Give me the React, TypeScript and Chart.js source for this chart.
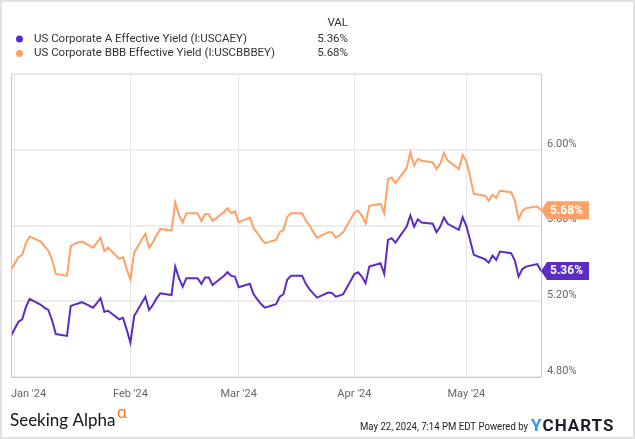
import React, { useEffect, useRef } from 'react';
import { Chart, registerables } from 'chart.js';
Chart.register(...registerables);

// ---------- data ----------
const dates = [
  "2023-12-29",
  "2024-01-01","2024-01-02","2024-01-03","2024-01-04","2024-01-05",
  "2024-01-08","2024-01-09","2024-01-10","2024-01-11","2024-01-12",
  "2024-01-15","2024-01-16","2024-01-17","2024-01-18","2024-01-19",
  "2024-01-22","2024-01-23","2024-01-24","2024-01-25","2024-01-26",
  "2024-01-29","2024-01-30","2024-01-31",
  "2024-02-01","2024-02-02",
  "2024-02-05","2024-02-06","2024-02-07","2024-02-08","2024-02-09",
  "2024-02-12","2024-02-13","2024-02-14","2024-02-15","2024-02-16",
  "2024-02-19","2024-02-20","2024-02-21","2024-02-22","2024-02-23",
  "2024-02-26","2024-02-27","2024-02-28","2024-02-29",
  "2024-03-01",
  "2024-03-04","2024-03-05","2024-03-06","2024-03-07","2024-03-08",
  "2024-03-11","2024-03-12","2024-03-13","2024-03-14","2024-03-15",
  "2024-03-18","2024-03-19","2024-03-20","2024-03-21","2024-03-22",
  "2024-03-25","2024-03-26","2024-03-27","2024-03-28","2024-03-29",
  "2024-04-01","2024-04-02","2024-04-03","2024-04-04","2024-04-05",
  "2024-04-08","2024-04-09","2024-04-10","2024-04-11","2024-04-12",
  "2024-04-15","2024-04-16","2024-04-17","2024-04-18","2024-04-19",
  "2024-04-22","2024-04-23","2024-04-24","2024-04-25","2024-04-26",
  "2024-04-29","2024-04-30",
  "2024-05-01","2024-05-02","2024-05-03",
  "2024-05-06","2024-05-07","2024-05-08","2024-05-09","2024-05-10",
  "2024-05-13","2024-05-14","2024-05-15","2024-05-16","2024-05-17",
  "2024-05-20","2024-05-21",
];

const bbbYield = [
  5.30,
  5.40, 5.433, 5.445, 5.507, 5.542,
  5.515, 5.49, 5.468, 5.42, 5.344,
  5.334, 5.49, 5.503, 5.51, 5.515,
  5.483, 5.51, 5.536, 5.466, 5.483,
  5.424, 5.433, 5.37,
  5.316, 5.457,
  5.556, 5.483, 5.51, 5.55, 5.582,
  5.573, 5.723, 5.656, 5.616, 5.665,
  5.665, 5.624, 5.661, 5.661, 5.624,
  5.670, 5.692, 5.665, 5.674,
  5.616,
  5.642, 5.586, 5.56, 5.53, 5.507,
  5.524, 5.565, 5.577, 5.644, 5.665,
  5.665, 5.626, 5.60, 5.565, 5.536,
  5.565, 5.565, 5.536, 5.548, 5.565,
  5.668, 5.679, 5.651, 5.612, 5.704,
  5.714, 5.665, 5.845, 5.853, 5.824,
  5.903, 5.986, 5.917, 5.952, 5.942,
  5.933, 5.898, 5.926, 5.982, 5.943,
  5.898, 5.973,
  5.938, 5.859, 5.767,
  5.757, 5.730, 5.762, 5.745, 5.783,
  5.776, 5.732, 5.635, 5.675, 5.692,
  5.700, 5.68,
];

const aYield = [
  4.94,
  5.055, 5.092, 5.105, 5.17, 5.212,
  5.181, 5.165, 5.154, 5.10, 5.027,
  5.017, 5.175, 5.182, 5.188, 5.195,
  5.166, 5.19, 5.216, 5.145, 5.150,
  5.105, 5.113, 5.05,
  4.981, 5.122,
  5.224, 5.154, 5.18, 5.215, 5.242,
  5.233, 5.383, 5.322, 5.277, 5.322,
  5.322, 5.292, 5.325, 5.325, 5.286,
  5.333, 5.353, 5.334, 5.330,
  5.274,
  5.292, 5.237, 5.21, 5.185, 5.166,
  5.185, 5.224, 5.237, 5.313, 5.334,
  5.334, 5.292, 5.263, 5.24, 5.219,
  5.246, 5.244, 5.224, 5.23, 5.237,
  5.344, 5.353, 5.330, 5.295, 5.383,
  5.401, 5.344, 5.524, 5.533, 5.510,
  5.594, 5.653, 5.594, 5.633, 5.616,
  5.609, 5.565, 5.594, 5.642, 5.609,
  5.577, 5.644,
  5.598, 5.524, 5.445,
  5.422, 5.404, 5.441, 5.418, 5.462,
  5.454, 5.415, 5.330, 5.37, 5.383,
  5.396, 5.36,
];

const seriesNames = [
  "US Corporate A Effective Yield (I:USCAEY)",
  "US Corporate BBB Effective Yield (I:USCBBBEY)",
];
const lastValues = ["5.36%", "5.68%"];
const seriesColors = ["#5b2dc4", "#ffa066"];
const monthTicks = ["2024-01-01", "2024-02-01", "2024-03-01", "2024-04-01", "2024-05-01"];
const monthLabels = ["Jan '24", "Feb '24", "Mar '24", "Apr '24", "May '24"];
const yTicks = [4.8, 5.2, 5.6, 6.0, 6.4];
const xRange = ["2023-12-31", "2024-05-21"];
const footerStamp = "May 22, 2024, 7:14 PM EDT Powered by";

const BASE = Date.parse("2024-01-01T00:00:00Z");
const dayOf = (s: string) => (Date.parse(s + "T00:00:00Z") - BASE) / 86400000;

const FONT = "Roboto, 'Noto Sans', sans-serif";

const decor = {
  id: 'decor',
  beforeDraw(chart: any) {
    const { ctx, width, height } = chart;
    ctx.save();
    ctx.fillStyle = '#ffffff';
    ctx.fillRect(0, 0, width, height);
    ctx.restore();
  },
  afterDraw(chart: any) {
    const { ctx, chartArea, scales, width, height } = chart;
    const xs = scales.x, ys = scales.y;
    ctx.save();

    // plot frame
    ctx.lineWidth = 1;
    ctx.strokeStyle = '#e4e4e4';
    ctx.beginPath();
    ctx.moveTo(chartArea.left, chartArea.top + 0.5);
    ctx.lineTo(chartArea.right, chartArea.top + 0.5);
    ctx.stroke();
    ctx.strokeStyle = '#c8c8c8';
    ctx.beginPath();
    ctx.moveTo(chartArea.left + 0.5, chartArea.top);
    ctx.lineTo(chartArea.left + 0.5, chartArea.bottom + 0.5);
    ctx.lineTo(chartArea.right + 0.5, chartArea.bottom + 0.5);
    ctx.lineTo(chartArea.right + 0.5, chartArea.top);
    ctx.stroke();

    // outer border
    ctx.strokeStyle = '#e2e2e2';
    ctx.lineWidth = 2;
    ctx.strokeRect(1, 1, width - 2, height - 2);

    // x labels
    ctx.font = `11px ${FONT}`;
    ctx.fillStyle = '#666666';
    ctx.textBaseline = 'middle';
    ctx.textAlign = 'left';
    monthTicks.forEach((d, i) => {
      const px = xs.getPixelForValue(dayOf(d));
      const w = ctx.measureText(monthLabels[i]).width;
      const left = Math.max(px - w / 2, chartArea.left);
      ctx.fillText(monthLabels[i], left, 394);
    });

    // value badges
    chart.data.datasets.forEach((ds: any, i: number) => {
      const last = ds.data[ds.data.length - 1];
      const py = ys.getPixelForValue(last.y);
      const tip = chartArea.right;
      const bl = tip + 6, br = tip + 48, h = 9;
      ctx.fillStyle = seriesColors[i];
      ctx.beginPath();
      ctx.moveTo(tip, py);
      ctx.lineTo(bl, py - h);
      ctx.lineTo(br, py - h);
      ctx.lineTo(br, py + h);
      ctx.lineTo(bl, py + h);
      ctx.closePath();
      ctx.fill();
      ctx.fillStyle = '#ffffff';
      ctx.font = `bold 12px ${FONT}`;
      ctx.textAlign = 'left';
      ctx.textBaseline = 'middle';
      ctx.fillText(lastValues[i], bl + 3, py + 0.5);
    });

    // legend
    ctx.font = `11.5px ${FONT}`;
    ctx.fillStyle = '#333333';
    ctx.textBaseline = 'middle';
    ctx.textAlign = 'right';
    ctx.fillText('VAL', 348, 23);
    seriesNames.forEach((name, i) => {
      const y = 39 + i * 14.5;
      ctx.fillStyle = seriesColors[i];
      ctx.beginPath();
      ctx.arc(19.5, y, 3.5, 0, Math.PI * 2);
      ctx.fill();
      ctx.fillStyle = '#333333';
      ctx.textAlign = 'left';
      ctx.fillText(name, 34, y);
      ctx.textAlign = 'right';
      ctx.fillText(lastValues[i], 348, y);
    });

    // footer
    ctx.textAlign = 'left';
    ctx.textBaseline = 'alphabetic';
    ctx.fillStyle = '#141414';
    ctx.font = `17px Lato, ${FONT}`;
    ctx.fillText('Seeking Alpha', 10, 426, 106);
    ctx.fillStyle = '#ff7a1a';
    ctx.font = `17px ${FONT}`;
    ctx.fillText('α', 117, 418);

    ctx.fillStyle = '#222222';
    ctx.font = `11px ${FONT}`;
    ctx.textAlign = 'right';
    ctx.fillText(footerStamp, 528, 430, 168);

    ctx.textAlign = 'left';
    ctx.font = `bold 17px ${FONT}`;
    (ctx as any).letterSpacing = '1px';
    ctx.fillStyle = '#2f9be8';
    ctx.fillText('Y', 531, 431);
    const yw = ctx.measureText('Y').width;
    ctx.fillStyle = '#1a1f2b';
    ctx.fillText('CHARTS', 531 + yw, 431, 627 - 531 - yw);
    ctx.restore();
  },
};

export default function App() {
  const ref = useRef<HTMLCanvasElement>(null);
  useEffect(() => {
    document.body.style.margin = '0';
    const canvas = ref.current!;
    const chart = new Chart(canvas, {
      type: 'line',
      data: {
        datasets: [
          {
            label: seriesNames[0],
            data: dates.map((d, i) => ({ x: dayOf(d), y: aYield[i] })),
            borderColor: seriesColors[0],
            borderWidth: 2,
            pointRadius: 0,
            tension: 0,
          },
          {
            label: seriesNames[1],
            data: dates.map((d, i) => ({ x: dayOf(d), y: bbbYield[i] })),
            borderColor: seriesColors[1],
            borderWidth: 2,
            pointRadius: 0,
            tension: 0,
          },
        ],
      },
      options: {
        animation: false,
        responsive: false,
        devicePixelRatio: 1,
        events: [],
        layout: { padding: { left: 11, top: 74, right: 0, bottom: 62 } },
        plugins: { legend: { display: false }, tooltip: { enabled: false } },
        scales: {
          x: {
            type: 'linear',
            min: dayOf(xRange[0]),
            max: dayOf(xRange[1]),
            afterBuildTicks: (s: any) => { s.ticks = monthTicks.map((d) => ({ value: dayOf(d) })); },
            afterFit: (s: any) => { s.height = 0; },
            ticks: { display: false },
            grid: { color: '#e6e6e6', lineWidth: 1, drawTicks: false },
            border: { display: false },
          },
          y: {
            position: 'right',
            min: yTicks[0],
            max: yTicks[yTicks.length - 1],
            afterBuildTicks: (s: any) => { s.ticks = yTicks.map((v) => ({ value: v })); },
            afterFit: (s: any) => { s.width = 94; },
            ticks: {
              callback: (v: any) => (v >= yTicks[yTicks.length - 1] - 1e-9 ? '' : Number(v).toFixed(2) + '%'),
              font: { family: FONT, size: 11 },
              color: '#666666',
              padding: 6,
              labelOffset: -6,
            },
            grid: { color: '#ededed', lineWidth: 2, drawTicks: false },
            border: { display: false },
          },
        },
      },
      plugins: [decor],
    });
    return () => chart.destroy();
  }, []);
  return (
    <div style={{ width: 635, height: 439, position: 'relative' }}>
      <canvas ref={ref} width={635} height={439} style={{ display: 'block' }} />
    </div>
  );
}
